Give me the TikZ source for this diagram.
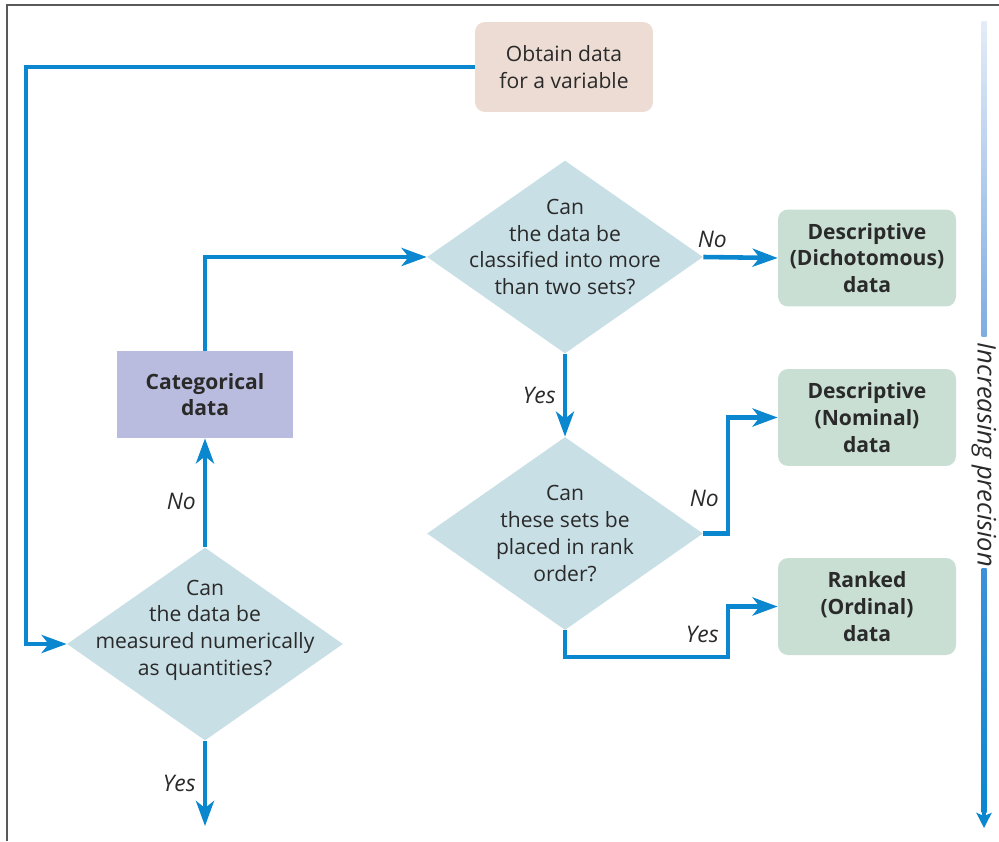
\documentclass[tikz,border=0pt]{standalone}
\usepackage{fontspec}
\setmainfont{Open Sans}
\usetikzlibrary{arrows.meta, positioning, shapes.geometric, calc}

\definecolor{flowblue}{HTML}{0A87CF}
\definecolor{askfill}{HTML}{C8DFE5}
\definecolor{startfill}{HTML}{EDDCD3}
\definecolor{catfill}{HTML}{B9BCDE}
\definecolor{endfill}{HTML}{C9DFD4}
\definecolor{inktext}{HTML}{2A2A2A}
\definecolor{scaletop}{HTML}{E4ECF8}
\definecolor{scalemid}{HTML}{7FACE1}
\definecolor{scalelow}{HTML}{3F90D8}

\begin{document}
\begin{tikzpicture}[x=0.02cm, y=-0.02cm,
      every node/.style={text=inktext, font=\fontsize{12}{15.2}\selectfont},
      ask/.style={diamond, fill=askfill, inner sep=0pt,
                  minimum width=5.52cm, minimum height=3.86cm},
      asktxt/.style={align=center, inner sep=0pt},
      startbox/.style={rectangle, rounded corners=0.2cm, fill=startfill,
                  minimum width=3.56cm, minimum height=1.8cm, align=center},
      catbox/.style={rectangle, fill=catfill, minimum width=3.52cm,
                  minimum height=1.74cm, align=center,
                  font=\fontsize{12}{15.2}\selectfont\bfseries},
      endbox/.style={rectangle, rounded corners=0.2cm, fill=endfill,
                  minimum width=3.56cm, minimum height=1.94cm, align=center,
                  font=\fontsize{12}{15.2}\selectfont\bfseries},
      flow/.style={draw=flowblue, line width=2.6pt,
                  -{Stealth[length=0.5cm, width=0.36cm, inset=0.14cm]}},
      ans/.style={font=\fontsize{13}{15.2}\selectfont\itshape, inner sep=4pt}]

    % page and frame
    \useasboundingbox (0,0) rectangle (999,841);
    \draw[gray!70!black, line width=0.6pt] (7,841) -- (7,5) -- (999,5);

    % nodes
    \node[startbox] (obtain) at (564,67) {Obtain data\\for a variable};
    \node[ask, label={[asktxt, yshift=0.28cm]center:{Can\\the data be\\measured numerically\\as quantities?}}]
        (q1) at (205,644) {};
    \node[catbox] (cat) at (205,394.5) {Categorical\\data};
    \node[ask, label={[asktxt, yshift=0.2cm]center:{Can\\the data be\\classified into more\\than two sets?}}]
        (q2) at (565,257) {};
    \node[ask, label={[asktxt]center:{Can\\these sets be\\placed in rank\\order?}}]
        (q3) at (565,533.5) {};
    \node[endbox] (dich) at (867,258) {Descriptive\\(Dichotomous)\\data};
    \node[endbox] (nom) at (867,417.5) {Descriptive\\(Nominal)\\data};
    \node[endbox] (ord) at (867,606.5) {Ranked\\(Ordinal)\\data};

    % turning points
    \coordinate (loop) at (26,0);
    \coordinate (jog) at (728,0);
    \coordinate (low) at (0,657);
    \coordinate (exit) at (205,826);

    % connectors
    \draw[flow] (obtain.west) -- (loop |- obtain.west) -- (loop |- q1.west) -- (q1.west);
    \draw[flow] (q1.north) -- node[ans, left, pos=0.42] {No} (cat.south);
    \draw[flow] (cat.north) |- (q2.west);
    \draw[flow] (q2.east) -- node[ans, above, pos=0.12] {No} (dich.west);
    \draw[flow] (q2.south) -- node[ans, left] {Yes} (q3.north);
    \draw[flow] (q3.east) -- (jog |- q3.east)
        -- node[ans, left, pos=0.3] {No} (jog |- nom.west) -- (nom.west);
    \draw[flow] (q3.south) |- (jog |- low)
        -- node[ans, left, pos=0.45] {Yes} (jog |- ord.west) -- (ord.west);
    \draw[flow] (q1.south) -- node[ans, left, pos=0.5] {Yes} (exit);

    % precision scale on the right
    \node[ans, font=\fontsize{14.5}{16}\selectfont\itshape, rotate=-90, inner sep=0pt]
        (prec) at (984,455) {Increasing precision};
    \shade[top color=scaletop, bottom color=scalemid]
        (981.5,22) rectangle (986.5,336);
    \coordinate (scaleend) at (984,828);
    \shade[top color=scalelow, bottom color=flowblue]
        (981.5,568) rectangle (986.5,812);
    \draw[flowblue, line width=2.6pt, -{Stealth[length=0.3cm, width=0.3cm, inset=0.06cm]}]
        (984,808) -- (scaleend);
\end{tikzpicture}
\end{document}
